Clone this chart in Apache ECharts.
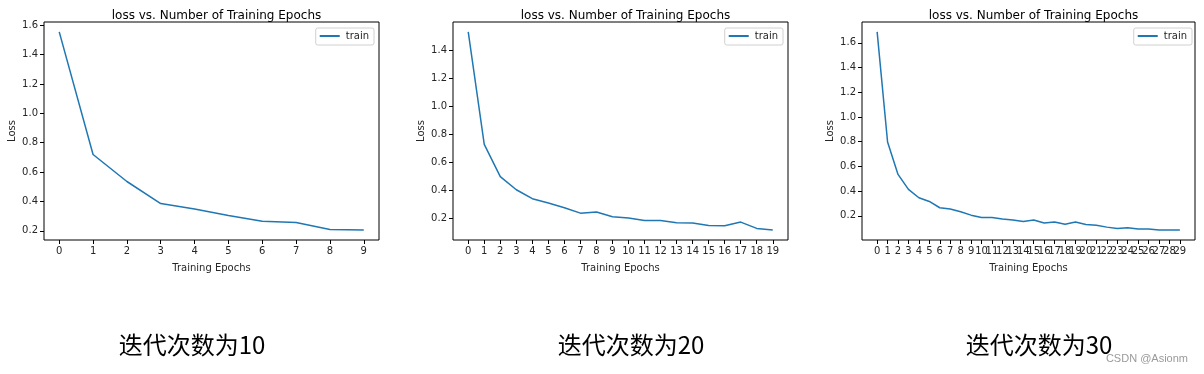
<!DOCTYPE html>
<html>
<head>
<meta charset="utf-8">
<script src="https://cdn.jsdelivr.net/npm/echarts@6/dist/echarts.min.js"></script>
<style>
html,body{margin:0;padding:0;background:#fff;}
#c{width:1204px;height:374px;}
</style>
</head>
<body>
<div id="c"></div>
<script>
// ---- data ----
var chartTitle = 'loss vs. Number of Training Epochs';
var xName = 'Training Epochs';
var yName = 'Loss';
var seriesName = 'train';
var loss10 = [1.555, 0.720, 0.536, 0.386, 0.348, 0.305, 0.266, 0.257, 0.209, 0.205];
var loss20 = [1.533, 0.731, 0.500, 0.407, 0.343, 0.312, 0.279, 0.240, 0.248, 0.214,
              0.205, 0.188, 0.188, 0.171, 0.169, 0.152, 0.150, 0.176, 0.131, 0.119];
var loss30 = [1.689, 0.797, 0.535, 0.414, 0.346, 0.316, 0.265, 0.254, 0.232, 0.205,
              0.186, 0.186, 0.173, 0.165, 0.154, 0.165, 0.141, 0.149, 0.132, 0.149,
              0.130, 0.124, 0.108, 0.097, 0.103, 0.092, 0.092, 0.084, 0.084, 0.084];
var yTicks10 = [0.2, 0.4, 0.6, 0.8, 1.0, 1.2, 1.4, 1.6];
var yTicks20 = [0.2, 0.4, 0.6, 0.8, 1.0, 1.2, 1.4];
var yTicks30 = [0.2, 0.4, 0.6, 0.8, 1.0, 1.2, 1.4, 1.6];
var captions = ['迭代次数为10', '迭代次数为20', '迭代次数为30'];
var watermark = 'CSDN @Asionm';

// ---- layout ----
var panels = [
  {data: loss10, yTicks: yTicks10, left: 44, right: 379, legendRight: 830, caption: 192},
  {data: loss20, yTicks: yTicks20, left: 453, right: 788, legendRight: 421, caption: 631},
  {data: loss30, yTicks: yTicks30, left: 862, right: 1195, legendRight: 12, caption: 1039}
];
var W = 1204, H = 374, TOP = 22, BOTTOM = 240;
var FONT = 'DejaVu Sans';
var TXT = '#262626';

var option = {
  animation: false,
  backgroundColor: '#fff',
  title: [], grid: [], xAxis: [], yAxis: [], series: [], legend: [],
  graphic: []
};

panels.forEach(function (p, k) {
  var n = p.data.length;
  var xm = 0.05 * (n - 1);
  var dmin = Math.min.apply(null, p.data), dmax = Math.max.apply(null, p.data);
  var ym = 0.05 * (dmax - dmin);
  var xt = [], xtEven = [], xtOdd = [];
  for (var i = 0; i < n; i++) { xt.push(i); (i % 2 ? xtOdd : xtEven).push(i); }

  option.title.push({
    text: chartTitle,
    left: (p.left + p.right) / 2, top: 5, textAlign: 'center',
    textStyle: {fontFamily: FONT, fontSize: 12, fontWeight: 'normal', color: '#000'}
  });
  option.grid.push({
    left: p.left, width: p.right - p.left, top: TOP, height: BOTTOM - TOP,
    show: true, borderColor: '#000', borderWidth: 1, backgroundColor: 'transparent'
  });
  var xBase = {
    type: 'value', gridIndex: k, min: -xm, max: n - 1 + xm, position: 'bottom',
    axisLine: {show: false, onZero: false},
    splitLine: {show: false}
  };
  // main x axis: even labels, all ticks, axis name
  option.xAxis.push(Object.assign({}, xBase, {
    name: xName, nameLocation: 'middle', nameGap: 23,
    nameTextStyle: {fontFamily: FONT, fontSize: 10, color: TXT},
    axisTick: {show: true, inside: false, length: 4, lineStyle: {color: '#000', width: 1}, customValues: xt},
    axisLabel: {fontFamily: FONT, fontSize: 10, color: TXT, margin: 6, customValues: xtEven,
                hideOverlap: false, showMinLabel: true, showMaxLabel: true}
  }));
  // companion x axis: odd labels (same scale, same place)
  option.xAxis.push(Object.assign({}, xBase, {
    axisTick: {show: false, customValues: xtOdd},
    axisLabel: {fontFamily: FONT, fontSize: 10, color: TXT, margin: 6, customValues: xtOdd,
                hideOverlap: false, showMinLabel: true, showMaxLabel: true}
  }));
  option.yAxis.push({
    type: 'value', gridIndex: k, min: dmin - ym, max: dmax + ym, position: 'left',
    name: yName, nameLocation: 'middle', nameGap: 27,
    nameTextStyle: {fontFamily: FONT, fontSize: 10, color: TXT},
    axisLine: {show: false, onZero: false},
    splitLine: {show: false},
    axisTick: {show: true, inside: false, length: 4, lineStyle: {color: '#000', width: 1}, customValues: p.yTicks},
    axisLabel: {fontFamily: FONT, fontSize: 10, color: TXT, margin: 6, customValues: p.yTicks,
                formatter: function (v) { return v.toFixed(1); }}
  });
  option.series.push({
    name: seriesName, type: 'line', xAxisIndex: 2 * k, yAxisIndex: k,
    data: p.data.map(function (v, i) { return [i, v]; }),
    symbol: 'none', showSymbol: false,
    lineStyle: {color: '#1f77b4', width: 1.5},
    itemStyle: {color: '#1f77b4'}
  });
  option.legend.push({
    data: [{name: seriesName, icon: 'path://M0,0 L10,0 L10,1 L0,1 Z'}],
    right: p.legendRight, top: 28, orient: 'vertical',
    itemWidth: 22, itemHeight: 2, itemGap: 5,
    padding: [3, 5, 4, 4],
    borderColor: '#d0d0d0', borderWidth: 1, borderRadius: 2,
    backgroundColor: '#fff',
    textStyle: {fontFamily: FONT, fontSize: 10, color: TXT},
    selectedMode: false
  });
  option.graphic.push({
    type: 'text', x: p.caption, y: 333,
    style: {text: captions[k], textAlign: 'center',
            font: '24px "Noto Sans CJK SC"', fill: '#000'}
  });
});

option.graphic.push({
  type: 'text', x: 1188, y: 353,
  style: {text: watermark, textAlign: 'right', font: '11px "Liberation Sans"', fill: '#9a9a9a'}
});

var chart = echarts.init(document.getElementById('c'), null, {renderer: 'canvas', width: W, height: H});
chart.setOption(option);
</script>
</body>
</html>
